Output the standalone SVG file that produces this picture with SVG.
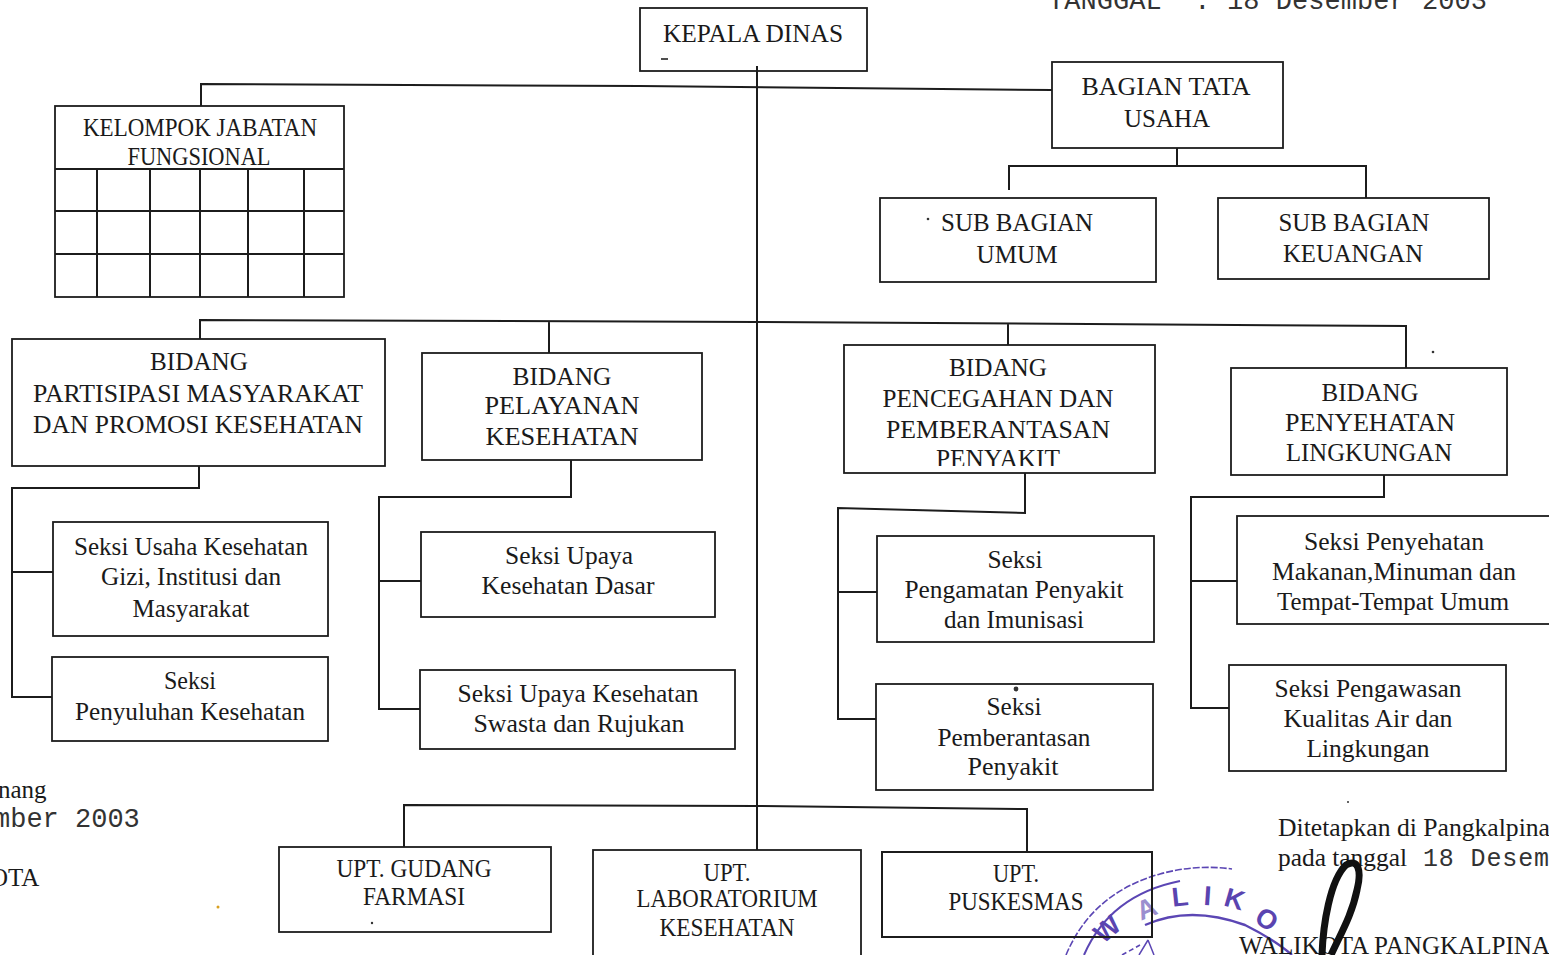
<svg xmlns="http://www.w3.org/2000/svg" width="1549" height="955" viewBox="0 0 1549 955">
<style>
.b{fill:#fff;stroke:#1c1c1c;stroke-width:1.8}
.c{fill:none;stroke:#1c1c1c;stroke-width:2}
text{font-family:"Liberation Serif","Times New Roman",serif;fill:#1a1a1a;font-size:25px;text-anchor:middle}
.m{font-family:"Liberation Mono","Courier New",monospace;text-anchor:start;font-size:27px;fill:#333}
.l{text-anchor:start}
.p{font-family:"Liberation Sans",Arial,sans-serif;font-weight:bold;font-size:27px;fill:#5a44b0}
.st{fill:none;stroke:#5b46b4}
</style>
<defs><clipPath id="pc"><rect x="850" y="340" width="300" height="126"/></clipPath></defs>
<rect width="1549" height="955" fill="#fff"/>

<g id="stamp">
<path class="st" stroke-width="1.6" stroke-dasharray="7 2" d="M1066 955Q1092 893 1160 874Q1196 864 1232 869"/>
<path class="st" stroke-width="2" d="M1084 955Q1110 895 1180 881"/>
<path class="st" stroke-width="2.4" d="M1145 925Q1190 905 1245 925Q1275 940 1292 955"/>
<path class="st" stroke-width="1.6" stroke-dasharray="5 3" d="M1122 955L1140 945"/>
<text class="p" x="1113" y="936" transform="rotate(-40 1113 936)">W</text>
<text class="p" x="1150" y="917" transform="rotate(-22 1150 917)" opacity=".6">A</text>
<text class="p" x="1181" y="906" transform="rotate(-6 1181 906)">L</text>
<text class="p" x="1207" y="905" transform="rotate(4 1207 905)">I</text>
<text class="p" x="1232" y="908" transform="rotate(16 1232 908)">K</text>
<text class="p" x="1262" y="927" transform="rotate(32 1262 927)">O</text>
<path class="st" stroke-width="1.5" d="M1148 940L1139 955M1148 940L1154 955"/>
</g>

<g id="connectors">
<path class="c" d="M757 68V850"/>
<path class="c" d="M201 106V84L640 86L1052 90"/>
<path class="c" d="M1177 148V166M1009 190V166H1366V198"/>
<path class="c" d="M200 339V320L757 322L1406 326V368M549 322V353M1008 324V345"/>
<path class="c" d="M199 466V488H12V697H52M12 572H53"/>
<path class="c" d="M571 460V497H379V709H420M379 581H421"/>
<path class="c" d="M1025 473V513L838 508V719H877M838 592H878"/>
<path class="c" d="M1384 475V497H1191V708H1229M1191 581H1237"/>
<path class="c" d="M404 847V805L757 806L1027 809V852"/>
</g>

<g id="kepala-dinas"><rect class="b" x="640" y="8" width="227" height="63"/><text x="753" y="42" textLength="180" lengthAdjust="spacingAndGlyphs">KEPALA DINAS</text></g>
<path id="speck-kepala" d="M661 59h7" stroke="#222" stroke-width="1.6"/>
<path class="c" d="M757 66V72"/>

<g id="bagian-tata-usaha"><rect class="b" x="1052" y="62" width="231" height="86"/><text x="1166" y="95" textLength="169" lengthAdjust="spacingAndGlyphs">BAGIAN TATA</text><text x="1167" y="127" textLength="86" lengthAdjust="spacingAndGlyphs">USAHA</text></g>

<g id="jabatan-fungsional"><rect class="b" x="55" y="106" width="289" height="191"/><path class="c" d="M55 169H344M55 211H344M55 254H344M97 169V297M150 169V297M200 169V297M248 169V297M304 169V297"/><text x="200" y="136" textLength="234" lengthAdjust="spacingAndGlyphs">KELOMPOK JABATAN</text><text x="199" y="165" textLength="143" lengthAdjust="spacingAndGlyphs">FUNGSIONAL</text></g>

<g id="sub-umum"><rect class="b" x="880" y="198" width="276" height="84"/><text x="1017" y="231" textLength="152" lengthAdjust="spacingAndGlyphs">SUB BAGIAN</text><text x="1017" y="263" textLength="81" lengthAdjust="spacingAndGlyphs">UMUM</text></g>
<g id="sub-keuangan"><rect class="b" x="1218" y="198" width="271" height="81"/><text x="1354" y="231" textLength="151" lengthAdjust="spacingAndGlyphs">SUB BAGIAN</text><text x="1353" y="262" textLength="140" lengthAdjust="spacingAndGlyphs">KEUANGAN</text></g>

<g id="bidang-partisipasi"><rect class="b" x="12" y="339" width="373" height="127"/><text x="199" y="370" textLength="98" lengthAdjust="spacingAndGlyphs">BIDANG</text><text x="198" y="402" textLength="330" lengthAdjust="spacingAndGlyphs">PARTISIPASI MASYARAKAT</text><text x="198" y="433" textLength="330" lengthAdjust="spacingAndGlyphs">DAN PROMOSI KESEHATAN</text></g>
<g id="bidang-pelayanan"><rect class="b" x="422" y="353" width="280" height="107"/><text x="562" y="385" textLength="99" lengthAdjust="spacingAndGlyphs">BIDANG</text><text x="562" y="414" textLength="155" lengthAdjust="spacingAndGlyphs">PELAYANAN</text><text x="562" y="445" textLength="153" lengthAdjust="spacingAndGlyphs">KESEHATAN</text></g>
<g id="bidang-pencegahan"><rect class="b" x="844" y="345" width="311" height="128"/><text x="998" y="376" textLength="98" lengthAdjust="spacingAndGlyphs">BIDANG</text><text x="998" y="407" textLength="231" lengthAdjust="spacingAndGlyphs">PENCEGAHAN DAN</text><text x="998" y="438" textLength="224" lengthAdjust="spacingAndGlyphs">PEMBERANTASAN</text><text x="998" y="467" textLength="124" lengthAdjust="spacingAndGlyphs" clip-path="url(#pc)">PENYAKIT</text></g>
<g id="bidang-penyehatan"><rect class="b" x="1231" y="368" width="276" height="107"/><text x="1370" y="401" textLength="97" lengthAdjust="spacingAndGlyphs">BIDANG</text><text x="1370" y="431" textLength="170" lengthAdjust="spacingAndGlyphs">PENYEHATAN</text><text x="1369" y="461" textLength="166" lengthAdjust="spacingAndGlyphs">LINGKUNGAN</text></g>

<g id="seksi-usaha"><rect class="b" x="53" y="522" width="275" height="114"/><text x="191" y="555" textLength="234" lengthAdjust="spacingAndGlyphs">Seksi Usaha Kesehatan</text><text x="191" y="585" textLength="180" lengthAdjust="spacingAndGlyphs">Gizi, Institusi dan</text><text x="191" y="617" textLength="117" lengthAdjust="spacingAndGlyphs">Masyarakat</text></g>
<g id="seksi-penyuluhan"><rect class="b" x="52" y="657" width="276" height="84"/><text x="190" y="689" textLength="52" lengthAdjust="spacingAndGlyphs">Seksi</text><text x="190" y="720" textLength="230" lengthAdjust="spacingAndGlyphs">Penyuluhan Kesehatan</text></g>
<g id="seksi-dasar"><rect class="b" x="421" y="532" width="294" height="85"/><text x="569" y="564" textLength="128" lengthAdjust="spacingAndGlyphs">Seksi Upaya</text><text x="568" y="594" textLength="173" lengthAdjust="spacingAndGlyphs">Kesehatan Dasar</text></g>
<g id="seksi-swasta"><rect class="b" x="420" y="670" width="315" height="79"/><text x="578" y="702" textLength="241" lengthAdjust="spacingAndGlyphs">Seksi Upaya Kesehatan</text><text x="579" y="732" textLength="211" lengthAdjust="spacingAndGlyphs">Swasta dan Rujukan</text></g>
<g id="seksi-pengamatan"><rect class="b" x="877" y="536" width="277" height="106"/><text x="1015" y="568" textLength="55" lengthAdjust="spacingAndGlyphs">Seksi</text><text x="1014" y="598" textLength="219" lengthAdjust="spacingAndGlyphs">Pengamatan Penyakit</text><text x="1014" y="628" textLength="140" lengthAdjust="spacingAndGlyphs">dan Imunisasi</text></g>
<g id="seksi-pemberantasan"><rect class="b" x="876" y="684" width="277" height="106"/><text x="1014" y="715" textLength="55" lengthAdjust="spacingAndGlyphs">Seksi</text><text x="1014" y="746" textLength="153" lengthAdjust="spacingAndGlyphs">Pemberantasan</text><text x="1013" y="775" textLength="91" lengthAdjust="spacingAndGlyphs">Penyakit</text></g>
<g id="seksi-makanan"><rect class="b" x="1237" y="516" width="316" height="108"/><text x="1394" y="550" textLength="180" lengthAdjust="spacingAndGlyphs">Seksi Penyehatan</text><text x="1394" y="580" textLength="244" lengthAdjust="spacingAndGlyphs">Makanan,Minuman dan</text><text x="1393" y="610" textLength="232" lengthAdjust="spacingAndGlyphs">Tempat-Tempat Umum</text></g>
<g id="seksi-pengawasan"><rect class="b" x="1229" y="665" width="277" height="106"/><text x="1368" y="697" textLength="187" lengthAdjust="spacingAndGlyphs">Seksi Pengawasan</text><text x="1368" y="727" textLength="169" lengthAdjust="spacingAndGlyphs">Kualitas Air dan</text><text x="1368" y="757" textLength="123" lengthAdjust="spacingAndGlyphs">Lingkungan</text></g>

<g id="upt-gudang"><rect class="b" x="279" y="847" width="272" height="85"/><text x="414" y="877" textLength="155" lengthAdjust="spacingAndGlyphs">UPT. GUDANG</text><text x="414" y="905" textLength="102" lengthAdjust="spacingAndGlyphs">FARMASI</text></g>
<g id="upt-lab"><rect class="b" x="593" y="850" width="268" height="110"/><text x="727" y="881" textLength="47" lengthAdjust="spacingAndGlyphs">UPT.</text><text x="727" y="907" textLength="181" lengthAdjust="spacingAndGlyphs">LABORATORIUM</text><text x="727" y="936" textLength="135" lengthAdjust="spacingAndGlyphs">KESEHATAN</text></g>
<g id="upt-puskesmas"><path class="c" d="M882 852H1152V937H882Z"/><text x="1016" y="882" textLength="46" lengthAdjust="spacingAndGlyphs">UPT.</text><text x="1016" y="910" textLength="135" lengthAdjust="spacingAndGlyphs">PUSKESMAS</text></g>

<text class="m" x="1048" y="9" textLength="439">TANGGAL&#160;&#160;: 18 Desember 2003</text>
<text class="l" x="-2" y="798">nang</text>
<text class="m" x="-6" y="827">mber 2003</text>
<text class="l" x="-10" y="886">OTA</text>
<text class="l" x="1278" y="836" textLength="272" lengthAdjust="spacingAndGlyphs">Ditetapkan di Pangkalpina</text>
<text class="l" x="1278" y="866" textLength="129" lengthAdjust="spacingAndGlyphs">pada tanggal</text>
<text class="m" x="1423" y="866" style="font-size:25px" textLength="126">18 Desem</text>
<text class="l" x="1239" y="954" textLength="311" lengthAdjust="spacingAndGlyphs">WALIKOTA PANGKALPINA</text>

<g id="signature"><path d="M1322 955C1323 925 1330 880 1346 865C1358 858 1362 870 1357 890C1352 915 1340 935 1331 955" fill="none" stroke="#111" stroke-width="7"/></g>
<g id="specks" fill="#333"><circle cx="1433" cy="352" r="1.3"/><circle cx="1016" cy="689" r="2.4"/><circle cx="218" cy="907" r="1.5" fill="#d9a020"/><circle cx="372" cy="923" r="1.2"/><circle cx="1348" cy="802" r="1"/><circle cx="928" cy="219" r="1.3"/></g>
</svg>
